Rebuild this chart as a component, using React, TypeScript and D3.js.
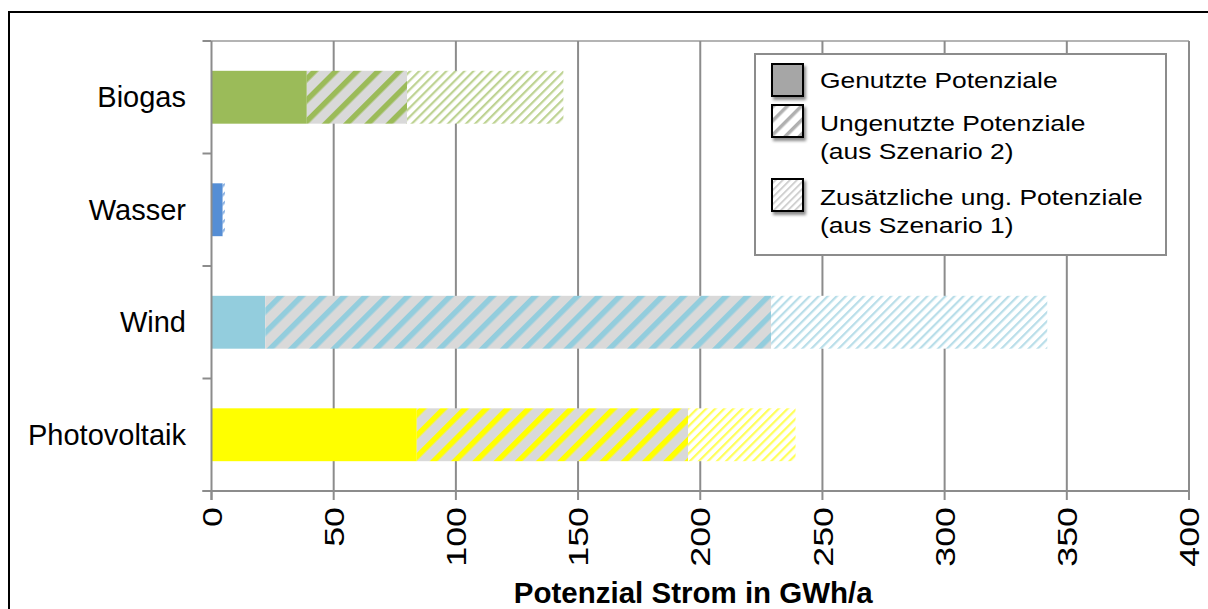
import React from "react";
import * as d3 from "d3";

// Potenzial Strom (GWh/a) je Energieträger
const categories = ["Biogas", "Wasser", "Wind", "Photovoltaik"];
const genutzt = [39, 4.6, 22, 84];
const ungenutzt = [41, 0, 207, 111];
const zusaetzlich = [64, 0.9, 113, 44];
const colors = ["#9BBB59", "#558ED5", "#93CDDD", "#FFFF00"];
const xTicks = [0, 50, 100, 150, 200, 250, 300, 350, 400];
const legendLabels = [
  ["Genutzte Potenziale"],
  ["Ungenutzte Potenziale", "(aus Szenario 2)"],
  ["Zusätzliche ung. Potenziale", "(aus Szenario 1)"],
];
const xTitle = "Potenzial Strom in GWh/a";

const W = 1208;
const H = 609;
const plot = { left: 211.5, right: 1189, top: 41, bottom: 491 };
const FONT = "'Liberation Sans', Arial, Helvetica, sans-serif";
const GRID = "#8C8C8C";

export default function App() {
  const x = d3.scaleLinear().domain([0, 400]).range([plot.left, plot.right]);
  const y = d3
    .scaleBand<string>()
    .domain(categories)
    .range([plot.top, plot.bottom])
    .paddingInner(0.53)
    .paddingOuter(0.265);
  const bandEdges = d3.range(categories.length + 1).map(
    (i) => plot.top + (i * (plot.bottom - plot.top)) / categories.length
  );

  const bars = categories.map((c, i) => {
    const s1 = genutzt[i];
    const s2 = s1 + ungenutzt[i];
    const s3 = s2 + zusaetzlich[i];
    return { c, i, segs: [[0, s1], [s1, s2], [s2, s3]] };
  });

  const darkP = 15;
  const lightP = 6.4;

  return (
    <svg
      width={W}
      height={H}
      style={{ position: "fixed", left: 0, top: 0, background: "#fff" }}
      fontFamily={FONT}
    >
      <defs>
        {colors.map((col, i) => (
          <React.Fragment key={i}>
            <pattern
              id={`dark-${i}`}
              patternUnits="userSpaceOnUse"
              width={darkP}
              height={darkP}
              patternTransform="rotate(45)"
            >
              <rect width={darkP} height={darkP} fill="#D9D9D9" />
              <rect x={0} width={5.5} height={darkP} fill={col} />
            </pattern>
            <pattern
              id={`light-${i}`}
              patternUnits="userSpaceOnUse"
              width={lightP}
              height={lightP}
              patternTransform="rotate(45)"
            >
              <rect width={lightP} height={lightP} fill="#fff" />
              <rect x={0} width={2.2} height={lightP} fill={col} opacity={0.65} />
            </pattern>
          </React.Fragment>
        ))}
        <pattern id="leg-dark" patternUnits="userSpaceOnUse" width={10} height={10} patternTransform="rotate(45)">
          <rect width={10} height={10} fill="#fff" />
          <rect width={3.5} height={10} fill="#B0B0B0" />
        </pattern>
        <pattern id="leg-light" patternUnits="userSpaceOnUse" width={5} height={5} patternTransform="rotate(45)">
          <rect width={5} height={5} fill="#fff" />
          <rect width={1.6} height={5} fill="#C8C8C8" />
        </pattern>
        <filter id="shadow" x="-30%" y="-30%" width="160%" height="160%">
          <feDropShadow dx={2} dy={3} stdDeviation={1.5} floodColor="#000" floodOpacity={0.45} />
        </filter>
      </defs>

      {/* chart frame */}
      <rect x={9} y={12} width={1220} height={620} fill="none" stroke="#000" strokeWidth={2} />

      {/* plot top border */}
      <line x1={plot.left} x2={plot.right} y1={plot.top} y2={plot.top} stroke="#B4B4B4" strokeWidth={2} />

      {/* vertical gridlines */}
      {xTicks.slice(1).map((t) => (
        <line key={t} x1={x(t)} x2={x(t)} y1={plot.top} y2={plot.bottom} stroke={GRID} strokeWidth={2} />
      ))}

      {/* bars */}
      {bars.map((b) =>
        b.segs.map(([a, e], k) =>
          e > a ? (
            <rect
              key={`${b.c}-${k}`}
              x={x(a)}
              y={y(b.c)!}
              width={x(e) - x(a)}
              height={y.bandwidth()}
              fill={k === 0 ? colors[b.i] : k === 1 ? `url(#dark-${b.i})` : `url(#light-${b.i})`}
            />
          ) : null
        )
      )}

      {/* y axis */}
      <line x1={plot.left} x2={plot.left} y1={plot.top} y2={plot.bottom + 9} stroke={GRID} strokeWidth={2} />
      {bandEdges.map((e, i) => (
        <line key={i} x1={plot.left - 9} x2={plot.left} y1={e} y2={e} stroke={GRID} strokeWidth={2} />
      ))}
      {categories.map((c) => (
        <text
          key={c}
          x={186}
          y={y(c)! + y.bandwidth() / 2}
          dy="0.35em"
          textAnchor="end"
          fontSize={29}
          fill="#000"
        >
          {c}
        </text>
      ))}

      {/* x axis */}
      <line x1={plot.left - 9} x2={plot.right} y1={plot.bottom} y2={plot.bottom} stroke={GRID} strokeWidth={2} />
      {xTicks.map((t) => (
        <g key={t}>
          <line x1={x(t)} x2={x(t)} y1={plot.bottom} y2={plot.bottom + 9} stroke={GRID} strokeWidth={2} />
          <text
            transform={`translate(${x(t)},507) rotate(-90) scale(1.28,1)`}
            textAnchor="end"
            dy="0.36em"
            fontSize={28}
            fill="#000"
          >
            {t}
          </text>
        </g>
      ))}
      <text x={(plot.left + plot.right) / 2 - 7} y={603} textAnchor="middle" fontSize={29.5} fontWeight="bold" fill="#000">
        {xTitle}
      </text>

      {/* legend */}
      <rect x={755} y={54} width={411} height={201} fill="#fff" stroke="#8C8C8C" strokeWidth={2} />
      {[
        { fill: "#A6A6A6", y: 64 },
        { fill: "url(#leg-dark)", y: 105 },
        { fill: "url(#leg-light)", y: 179 },
      ].map((s, i) => (
        <rect key={i} x={772} y={s.y} width={31} height={32} fill={s.fill} stroke="#000" strokeWidth={2} filter="url(#shadow)" />
      ))}
      {[
        { lines: legendLabels[0], y: 88 },
        { lines: legendLabels[1], y: 131 },
        { lines: legendLabels[2], y: 205 },
      ].map((l, i) =>
        l.lines.map((txt, j) => (
          <text
            key={`${i}-${j}`}
            transform={`translate(820,${l.y + j * 28}) scale(1.2,1)`}
            fontSize={22}
            fill="#000"
          >
            {txt}
          </text>
        ))
      )}
    </svg>
  );
}
